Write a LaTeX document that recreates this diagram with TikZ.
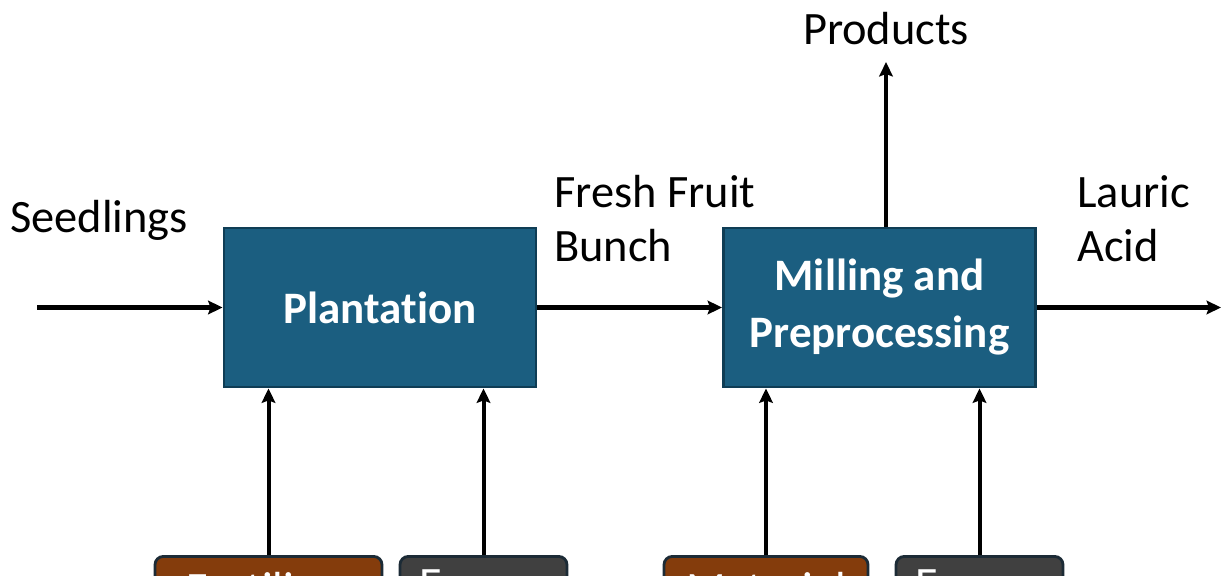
\documentclass[tikz,border=0pt]{standalone}
\usepackage{fontspec}
\setmainfont{Carlito}[Ligatures=NoCommon]
\usepackage{tikz}
\usetikzlibrary{calc,arrows.meta}
\usepackage[dvipsnames,svgnames]{xcolor}

\definecolor{boxblue}{HTML}{1B5E80}
\definecolor{boxline}{HTML}{0F3D55}
\definecolor{inbrown}{HTML}{843C0C}
\definecolor{ingrey}{HTML}{404040}
\definecolor{inline}{HTML}{1C2B36}

\tikzset{
    procbox/.style={draw=boxline,line width=2pt,fill=boxblue,text=white,
        font=\fontsize{32}{40.5}\selectfont\bfseries,align=center,
        minimum width=7.8cm,minimum height=3.975cm,inner sep=0pt},
    inbox/.style={draw=inline,line width=2pt,rounded corners=6pt,text=white,
        font=\fontsize{33}{40}\selectfont,minimum height=1.6cm,inner sep=0pt,anchor=north},
    lbl/.style={font=\fontsize{33}{38.4}\selectfont,align=left,inner sep=0pt},
    flow/.style={line width=2.85pt,-{Stealth[length=0.36cm,width=0.34cm,inset=0.06cm]}}
}

\begin{document}
\begin{tikzpicture}[x=0.025cm,y=-0.025cm]

    % Frame of the picture
    \clip (0,0) rectangle (1221,576);

    % Process boxes
    \node[procbox] (plant) at (380,307.5) {Plantation};
    \node[procbox] (mill) at (879.5,307.5) {Milling and\\Preprocessing};

    % Input boxes below (cut off by the frame)
    \node[inbox,fill=inbrown,minimum width=5.675cm] (fert) at (268.5,555) {Fertilizer};
    \node[inbox,fill=ingrey,minimum width=4.175cm] (enplant) at (483.5,555) {Energy};
    \node[inbox,fill=inbrown,minimum width=5.1cm] (mat) at (766,555) {Material};
    \node[inbox,fill=ingrey,minimum width=4.175cm] (enmill) at (979.5,555) {Energy};

    % Free ends of the flows
    \coordinate (seedin) at (37,307.5);
    \coordinate (acidout) at (1221,307.5);
    \coordinate (prodtip) at (886,62);

    % Flow labels
    \node[lbl,anchor=base west] (seedl) at (10,233) {Seedlings};
    \node[lbl,anchor=west] (ffbl) at (554,219) {Fresh Fruit\\Bunch};
    \node[lbl,anchor=west] (acidl) at (1077,219) {Lauric\\Acid};
    \node[lbl,anchor=base] (prodl) at (886,45) {Products};

    % Main flows
    \draw[flow] (seedin) -- (plant.west);
    \draw[flow] (plant.east) -- (mill.west);
    \draw[flow] (mill.east) -- (acidout);
    \draw[flow] (mill.north -| prodtip) -- (prodtip);

    % Inputs from below
    \draw[flow] (fert.north) -- (fert.north |- plant.south);
    \draw[flow] (enplant.north) -- (enplant.north |- plant.south);
    \draw[flow] (mat.north) -- (mat.north |- mill.south);
    \draw[flow] (enmill.north) -- (enmill.north |- mill.south);

\end{tikzpicture}
\end{document}
